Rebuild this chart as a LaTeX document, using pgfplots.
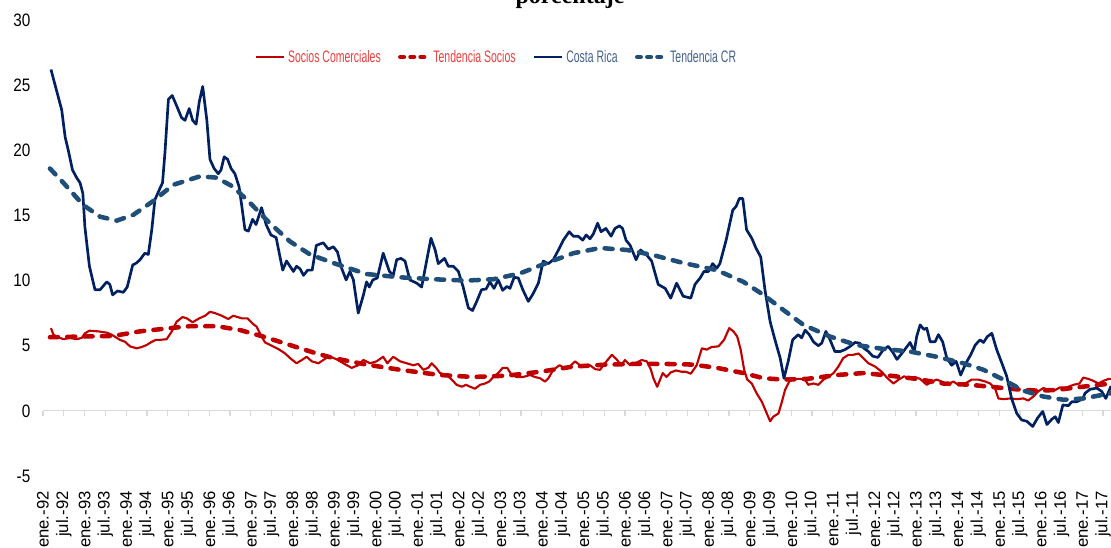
\documentclass[border=0pt]{standalone}
\usepackage{fontspec}
\setmainfont{Liberation Sans}
\newfontfamily\tickfont{Liberation Sans}[FakeStretch=0.85]
\newfontfamily\legfont{Liberation Sans}[FakeStretch=0.63]
\newfontfamily\titlefont{Liberation Serif}
\usepackage{pgfplots}
\usepackage{pgfplotstable}
\pgfplotsset{compat=1.18}

\definecolor{crsolid}{HTML}{002060}
\definecolor{crtrend}{HTML}{1F4E79}
\definecolor{socred}{HTML}{C00000}
\definecolor{zeroline}{HTML}{D9D9D9}
\definecolor{legred}{HTML}{E8403F}
\definecolor{legblue}{HTML}{44618C}

% month index: 0 = ene.-92
\pgfplotstableread{
m v
2.3 6.35
3.0 5.85
3.9 5.7
5.9 5.5
7.8 5.6
9.7 5.5
11.2 5.6
12.1 5.95
13.4 6.15
16.0 6.1
18.4 6.0
19.8 5.85
22.2 5.45
23.7 5.3
25.1 4.95
27.0 4.8
28.5 4.9
29.9 5.05
31.4 5.3
32.6 5.45
33.8 5.45
35.7 5.5
37.2 6.1
38.6 6.85
40.3 7.2
41.5 7.1
43.2 6.8
45.1 7.1
46.8 7.3
48.2 7.6
49.7 7.5
51.6 7.3
53.5 7.05
54.9 7.3
57.4 7.1
59.0 7.1
60.5 6.7
61.7 6.45
62.6 5.95
64.1 5.25
66.0 5.0
67.9 4.75
69.9 4.4
71.3 4.05
73.2 3.65
74.7 3.9
76.1 4.15
77.6 3.8
79.5 3.65
80.9 3.9
82.6 4.2
84.8 3.95
86.7 3.65
89.1 3.3
91.0 3.5
92.5 3.9
94.4 3.65
96.3 3.8
98.2 4.15
99.4 3.65
101.1 4.15
103.1 3.8
105.0 3.65
106.9 3.5
108.3 3.6
109.8 3.15
111.2 3.3
112.2 3.65
113.5 3.3
114.6 2.9
116.5 2.75
118.0 2.4
119.4 2.0
120.9 1.85
122.1 2.0
123.3 1.85
124.7 1.7
126.2 2.0
127.6 2.1
128.8 2.25
130.0 2.6
131.4 2.9
132.7 3.3
134.0 3.3
135.3 2.75
136.7 2.6
138.6 2.6
140.6 2.75
142.0 2.6
143.5 2.5
144.9 2.25
145.9 2.5
147.3 3.15
149.1 3.5
150.5 3.3
152.1 3.4
153.6 3.8
155.0 3.5
156.5 3.4
157.9 3.5
159.4 3.2
160.8 3.15
162.2 3.65
164.2 4.3
165.6 3.95
166.9 3.5
168.0 3.9
169.5 3.5
171.4 3.7
172.8 3.9
174.3 3.8
175.5 3.15
176.2 2.5
177.3 1.85
178.9 2.9
180.0 2.6
181.2 2.95
182.7 3.1
184.4 3.0
185.6 3.0
187.0 2.85
188.7 3.5
190.2 4.8
191.6 4.7
193.0 4.9
195.0 4.95
196.6 5.45
198.1 6.35
199.3 6.1
200.4 5.7
201.4 4.7
202.4 3.15
203.3 2.4
204.6 2.1
206.0 1.35
207.5 0.7
208.7 -0.05
209.9 -0.8
210.8 -0.45
212.3 -0.2
213.2 0.6
214.2 1.6
215.4 2.25
216.8 2.45
218.5 2.45
220.0 2.4
220.9 2.0
222.4 2.1
223.8 2.0
225.3 2.4
226.7 2.6
228.2 2.9
229.6 3.4
231.0 4.05
232.5 4.3
233.9 4.3
235.4 4.4
236.8 4.05
238.3 3.65
240.2 3.4
242.1 3.0
243.8 2.5
245.5 2.1
247.0 2.4
248.6 2.65
250.3 2.45
251.7 2.6
253.2 2.45
255.1 2.0
256.6 2.25
258.0 2.4
259.4 2.25
260.9 2.0
262.8 2.25
264.2 2.0
266.2 2.1
268.1 2.4
270.0 2.4
272.0 2.25
273.4 2.1
274.8 1.75
275.8 0.95
277.2 0.9
279.2 0.95
281.1 0.9
283.0 0.95
284.4 0.8
285.9 1.1
287.3 1.5
288.8 1.75
290.5 1.6
292.2 1.6
293.6 1.8
295.5 1.8
297.5 2.0
299.2 2.1
300.3 2.55
301.8 2.45
303.2 2.3
304.7 2.1
306.1 2.3
307.6 2.45
308.3 2.45
}\socios

\pgfplotstableread{
m v
2.0 5.65
10.7 5.7
20.3 5.75
28.0 6.1
36.7 6.35
42.4 6.5
50.1 6.5
56.9 6.2
63.6 5.7
71.3 5.05
79.0 4.4
83.8 4.05
93.4 3.55
103.1 3.15
114.6 2.75
124.2 2.6
133.9 2.7
143.5 3.0
153.1 3.4
162.7 3.55
170.4 3.6
180.0 3.6
187.7 3.55
194.5 3.3
202.2 2.9
208.0 2.5
213.7 2.4
220.5 2.45
229.1 2.75
236.8 2.9
244.5 2.7
252.2 2.45
259.9 2.1
267.6 2.0
275.3 1.8
281.1 1.65
286.9 1.55
292.6 1.6
298.4 1.8
308.3 2.1
}\tsocios

\pgfplotstableread{
m v
2.3 26.2
5.4 23.1
6.4 21.0
7.3 20.0
8.5 18.5
9.7 17.9
10.7 17.5
11.5 16.7
12.1 14.1
13.4 11.1
15.0 9.3
16.5 9.3
18.4 9.9
19.3 9.7
20.1 8.9
21.5 9.2
23.2 9.1
24.3 9.5
25.9 11.2
27.0 11.35
28.0 11.6
29.4 12.1
30.4 12.0
31.4 13.9
32.3 16.2
33.8 17.1
34.5 17.5
35.2 19.8
36.2 23.9
37.3 24.2
38.6 23.4
40.0 22.5
41.0 22.3
42.2 23.2
43.2 22.3
44.2 22.0
45.1 23.7
46.1 24.9
47.3 22.3
48.2 19.3
49.4 18.6
50.6 18.2
51.4 18.5
52.3 19.5
53.3 19.3
54.3 18.6
55.4 18.2
56.6 17.2
57.4 15.7
58.3 13.9
59.3 13.8
60.5 14.7
61.5 14.3
63.1 15.6
64.4 14.3
65.8 13.5
67.3 13.3
68.2 12.1
69.2 10.8
70.3 11.5
72.3 10.7
73.2 11.1
74.2 10.9
75.2 10.4
76.4 10.8
77.7 10.8
78.9 12.7
80.9 12.9
82.4 12.4
83.8 12.6
85.0 12.2
86.2 10.95
87.5 10.05
88.6 10.7
89.6 10.05
91.0 7.5
92.5 8.9
93.4 9.9
94.2 9.5
95.2 10.05
96.5 10.2
98.2 12.1
100.0 10.7
101.1 10.4
102.1 11.6
103.3 11.7
104.5 11.5
105.9 10.05
107.9 9.8
109.3 9.5
110.8 11.6
112.0 13.25
113.2 12.35
114.1 11.3
115.9 11.7
117.0 11.1
118.4 11.1
119.9 10.7
121.3 9.5
122.8 7.9
124.0 7.7
125.2 8.4
126.6 9.3
127.9 9.35
129.0 9.9
130.2 9.4
131.4 10.05
132.7 9.25
133.9 9.55
134.8 9.4
136.0 10.25
137.2 10.2
138.5 9.3
140.1 8.4
141.5 9.0
143.0 9.8
144.4 11.5
145.9 11.3
147.3 11.6
148.8 12.35
150.2 13.1
151.9 13.75
153.1 13.4
154.5 13.4
155.8 13.1
156.8 13.5
157.9 13.2
158.9 13.6
160.1 14.4
161.1 13.75
162.5 14.0
164.0 13.4
165.1 14.0
166.4 14.2
167.3 14.0
168.3 13.1
169.5 12.7
171.2 11.6
172.5 12.35
174.3 11.95
175.7 11.5
177.6 9.7
179.6 9.4
181.2 8.65
182.9 9.8
184.8 8.8
187.0 8.65
188.2 9.7
189.7 10.2
190.8 10.7
192.1 10.7
193.3 11.3
194.5 10.95
195.4 11.3
197.2 13.1
199.1 15.4
200.1 15.7
201.0 16.3
202.0 16.3
203.1 13.9
204.6 13.25
205.8 12.5
207.2 11.8
208.4 9.3
209.9 6.85
211.3 5.45
212.8 4.05
213.9 2.5
215.2 3.9
216.4 5.45
218.0 5.85
219.0 5.6
220.0 6.2
221.2 5.85
222.4 5.3
223.8 5.0
224.8 5.2
226.0 6.1
227.2 5.45
228.6 4.55
230.1 4.55
231.5 4.7
233.0 4.95
234.4 5.25
235.7 5.2
237.0 4.8
238.3 4.55
239.5 4.2
241.0 4.1
242.6 4.7
244.0 4.95
245.3 4.5
246.5 3.95
247.6 4.3
248.9 4.75
250.3 5.25
251.5 4.55
252.2 5.7
253.2 6.6
254.3 6.25
255.1 6.35
256.1 5.3
257.5 5.3
258.5 5.85
259.7 5.3
260.9 4.05
262.3 3.5
263.6 3.8
264.9 2.75
266.4 3.65
267.8 4.3
269.1 5.05
270.5 5.45
271.5 5.25
272.6 5.7
273.9 5.95
275.3 4.7
276.8 3.65
278.2 2.65
279.6 0.95
281.1 -0.2
282.5 -0.7
284.0 -0.8
285.7 -1.2
287.1 -0.55
288.6 -0.05
289.8 -1.05
291.2 -0.65
292.2 -0.45
293.1 -0.9
294.4 0.45
296.0 0.4
297.0 0.7
298.4 0.7
300.1 0.9
300.8 1.35
302.2 1.65
304.2 1.75
305.6 1.5
306.8 0.95
308.3 1.9
}\crdata

\pgfplotstableread{
m v
2.0 18.6
5.9 17.5
11.6 15.8
16.5 14.9
21.3 14.6
26.1 15.05
31.8 16.1
37.6 17.35
45.3 18.0
50.1 17.9
54.9 17.2
59.8 15.95
65.5 14.4
71.3 13.0
77.1 12.0
83.8 11.35
93.4 10.5
103.1 10.25
112.7 10.1
122.3 10.0
130.0 10.1
137.7 10.55
145.4 11.35
153.1 12.1
160.8 12.5
168.5 12.35
176.2 11.95
184.8 11.35
194.5 10.8
202.2 9.9
208.0 8.9
213.7 7.75
219.5 6.6
227.2 5.7
234.9 5.05
242.6 4.75
250.3 4.55
258.0 4.15
265.7 3.65
271.5 3.15
277.2 2.4
283.0 1.55
288.8 1.1
294.6 0.85
300.3 0.95
308.3 1.35
}\tcr

\begin{document}
\begin{tikzpicture}[x=0.75pt,y=0.75pt]
\pgfplotsset{
  base/.style={
    scale only axis, width=801pt, height=342pt,
    at={(32.25pt,54pt)}, anchor=south west,
    xmin=0, xmax=308.3, ymin=-5, ymax=30,
  },
  trend/.style={line width=3.4pt, line cap=round, dash pattern=on 6pt off 7pt},
}
% zero line with its tick marks
\begin{axis}[base,
  axis x line=middle, axis y line=none,
  x axis line style={-, zeroline, line width=0.9pt},
  xtick={0,6,...,306}, xticklabels={},
  xtick style={zeroline, line width=0.9pt},
  major tick length=3.75pt, tick align=outside,
  ytick=\empty]
\end{axis}
% data
\begin{axis}[base,
  axis x line*=bottom, axis y line*=left,
  x axis line style={draw=none}, y axis line style={draw=none},
  major tick length=0pt,
  xtick={0,6,...,306},
  xticklabels={ene.-92,jul.-92,ene.-93,jul.-93,ene.-94,jul.-94,ene.-95,jul.-95,ene.-96,jul.-96,ene.-97,jul.-97,ene.-98,jul.-98,ene.-99,jul.-99,ene.-00,jul.-00,ene.-01,jul.-01,ene.-02,jul.-02,ene.-03,jul.-03,ene.-04,jul.-04,ene.-05,jul.-05,ene.-06,jul.-06,ene.-07,jul.-07,ene.-08,jul.-08,ene.-09,jul.-09,ene.-10,jul.-10,ene.-11,jul.-11,ene.-12,jul.-12,ene.-13,jul.-13,ene.-14,jul.-14,ene.-15,jul.-15,ene.-16,jul.-16,ene.-17,jul.-17},
  xticklabel style={yshift=-8pt, rotate=90, anchor=east, font=\fontsize{12.5}{13}\selectfont},
  ytick={-5,0,...,30},
  yticklabels={-5,0,5,10,15,20,25,30},
  yticklabel style={xshift=-6pt, font=\tickfont\fontsize{13.5}{14}\selectfont},
  legend columns=4,
  legend style={at={(0.4251,0.9189)}, anchor=center, draw=none, fill=none,
    font=\legfont\fontsize{12.5}{14}\selectfont,
    /tikz/every even column/.append style={column sep=11pt}},
  legend image code/.code={\draw[#1] (0pt,0pt) -- (21pt,0pt);},
]
\addplot[socred, line width=1.6pt, line join=round, forget plot] table[x=m,y=v] {\socios};
\addplot[socred, trend, forget plot] table[x=m,y=v] {\tsocios};
\addplot[crsolid, line width=2pt, line join=round, forget plot] table[x=m,y=v] {\crdata};
\addplot[crtrend, trend, forget plot] table[x=m,y=v] {\tcr};

\addlegendimage{socred, line width=1.6pt}
\addlegendentry{\textcolor{legred}{Socios Comerciales}}
\addlegendimage{socred, line width=3.4pt, line cap=round, dash pattern=on 2.6pt off 5pt}
\addlegendentry{\textcolor{legred}{Tendencia Socios}}
\addlegendimage{crsolid, line width=2pt}
\addlegendentry{\textcolor{legblue}{Costa Rica}}
\addlegendimage{crtrend, line width=3.4pt, line cap=round, dash pattern=on 2.6pt off 5pt}
\addlegendentry{\textcolor{legblue}{Tendencia CR}}
\end{axis}
\node[font=\titlefont\bfseries\fontsize{18}{20}\selectfont, anchor=base] at (570,544) {porcentaje};
\pgfresetboundingbox
\useasboundingbox (0,0) rectangle (1111,548);
\end{tikzpicture}
\end{document}
